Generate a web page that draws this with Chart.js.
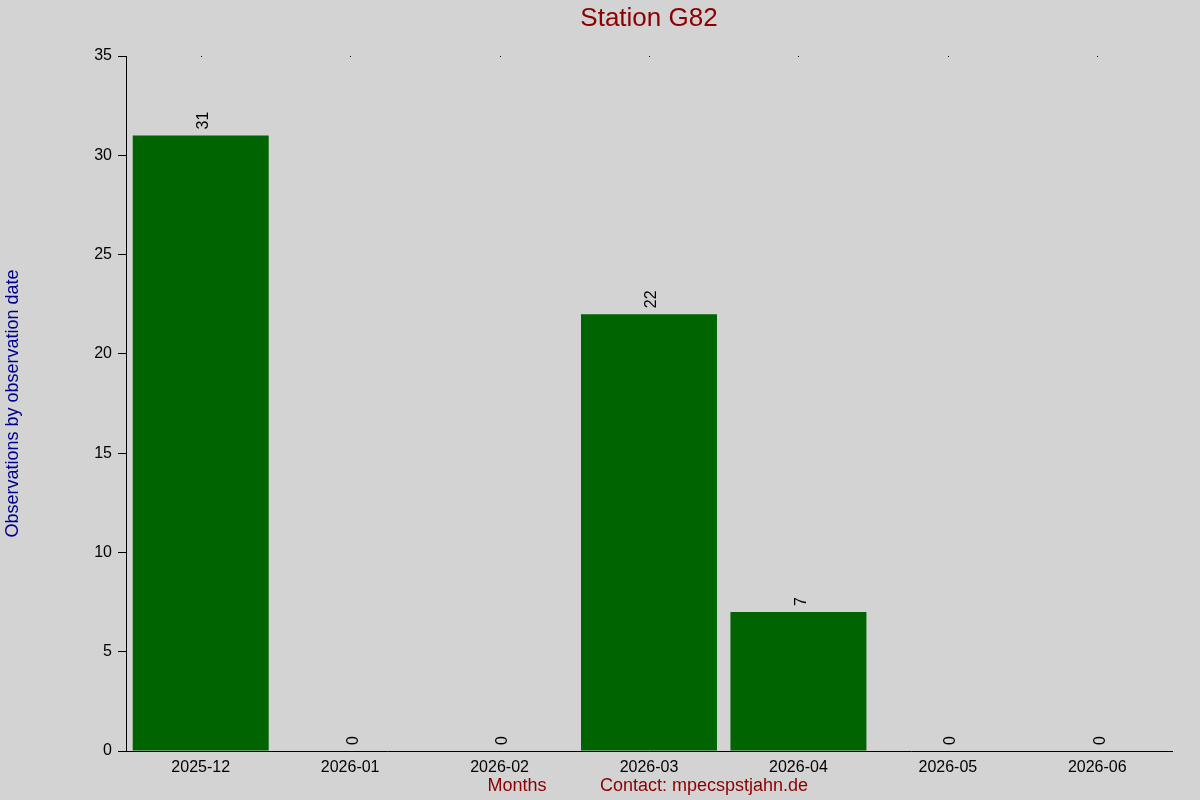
<!DOCTYPE html>
<html>
<head>
<meta charset="utf-8">
<script src="https://cdn.jsdelivr.net/npm/chart.js@4/dist/chart.umd.min.js"></script>
<style>
  html, body { margin: 0; padding: 0; background: #d3d3d3; }
  #wrap { width: 1200px; height: 800px; }
</style>
</head>
<body>
<div id="wrap"><canvas id="chart" width="1200" height="800"></canvas></div>
<script>
const months = ['2025-12', '2026-01', '2026-02', '2026-03', '2026-04', '2026-05', '2026-06'];
const observations = [31, 0, 0, 22, 7, 0, 0];
const yTicks = [0, 5, 10, 15, 20, 25, 30, 35];

const chartTitle = 'Station G82';
const yTitle = 'Observations by observation date';
const xTitle = 'Months';
const contactText = 'Contact: mpecspstjahn.de';

const fontFamily = '"Liberation Sans", Arial, sans-serif';

// background, title, footer texts and small top marks
const decorations = {
  id: 'decorations',
  beforeDraw(chart) {
    const ctx = chart.ctx;
    ctx.save();
    ctx.fillStyle = '#d3d3d3';
    ctx.fillRect(0, 0, chart.width, chart.height);
    ctx.restore();
  },
  afterDraw(chart) {
    const ctx = chart.ctx;
    const area = chart.chartArea;
    const x = chart.scales.x;
    ctx.save();
    ctx.fillStyle = '#8b0000';
    ctx.font = '26px ' + fontFamily;
    ctx.textAlign = 'center';
    ctx.textBaseline = 'middle';
    ctx.fillText(chartTitle, (area.left + area.right) / 2, 19);

    ctx.font = '18px ' + fontFamily;
    ctx.fillText(xTitle, 517, 786);
    ctx.fillText(contactText, 704, 786);

    // tiny marks at the top of each category
    ctx.fillStyle = '#000';
    months.forEach((m, i) => {
      ctx.fillRect(Math.round(x.getPixelForValue(i)), area.top, 1, 1);
    });
    ctx.restore();
  }
};

// rotated value labels above bars
const valueLabels = {
  id: 'valueLabels',
  afterDatasetsDraw(chart) {
    const ctx = chart.ctx;
    const meta = chart.getDatasetMeta(0);
    ctx.save();
    ctx.fillStyle = '#000';
    ctx.font = '16px ' + fontFamily;
    ctx.textAlign = 'left';
    ctx.textBaseline = 'middle';
    meta.data.forEach((bar, i) => {
      ctx.save();
      ctx.translate(bar.x + 3, bar.y - 6);
      ctx.rotate(-Math.PI / 2);
      ctx.fillText(String(observations[i]), 0, 0);
      ctx.restore();
    });
    ctx.restore();
  }
};

new Chart(document.getElementById('chart'), {
  type: 'bar',
  data: {
    labels: months,
    datasets: [{
      data: observations,
      backgroundColor: '#006400',
      borderWidth: 0,
      barPercentage: 0.91,
      categoryPercentage: 1.0
    }]
  },
  options: {
    responsive: false,
    devicePixelRatio: 1,
    animation: false,
    layout: { padding: { top: 56, right: 28, bottom: 0, left: 0 } },
    plugins: {
      legend: { display: false },
      title: { display: false },
      tooltip: { enabled: false }
    },
    scales: {
      x: {
        grid: { display: false, drawTicks: false },
        border: { display: true, color: '#000', width: 1 },
        ticks: {
          color: '#000',
          font: { family: fontFamily, size: 16 },
          padding: 7,
          maxRotation: 0
        },
        afterFit(scale) { scale.height = 49; }
      },
      y: {
        min: 0,
        max: 35,
        afterBuildTicks(scale) { scale.ticks = yTicks.map(v => ({ value: v })); },
        grid: {
          drawOnChartArea: false,
          drawTicks: true,
          tickLength: 8,
          color: '#000'
        },
        border: { display: true, color: '#000', width: 1 },
        ticks: {
          color: '#000',
          font: { family: fontFamily, size: 16 },
          padding: 6
        },
        title: {
          display: true,
          text: yTitle,
          color: '#00008b',
          font: { family: fontFamily, size: 18 },
          padding: { top: 2, bottom: 0 }
        },
        afterFit(scale) { scale.width = 126; }
      }
    }
  },
  plugins: [decorations, valueLabels]
});
</script>
</body>
</html>
